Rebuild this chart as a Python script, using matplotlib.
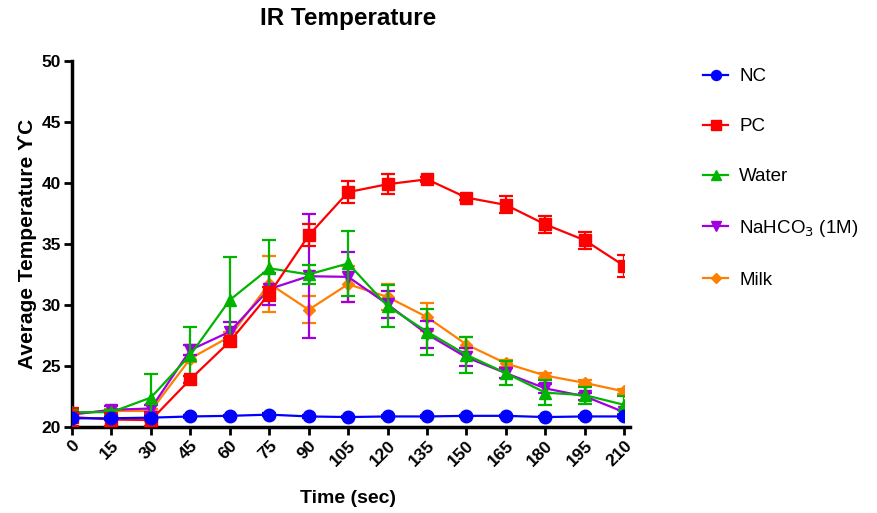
"""IR temperature time course, mean +/- error per treatment."""
import matplotlib
matplotlib.use("Agg")
import matplotlib.pyplot as plt
from matplotlib.lines import Line2D

plt.rcParams["font.family"] = ["Liberation Sans", "DejaVu Sans"]

time_sec = [0, 15, 30, 45, 60, 75, 90, 105, 120, 135, 150, 165, 180, 195, 210]

nc_mean = [20.7, 20.7, 20.75, 20.85, 20.9, 21.0, 20.85, 20.8, 20.85, 20.85, 20.9, 20.9, 20.8, 20.85, 20.85]
nc_err = [0.1, 0.1, 0.1, 0.1, 0.1, 0.1, 0.1, 0.1, 0.1, 0.1, 0.1, 0.1, 0.1, 0.1, 0.1]

pc_mean = [20.8, 20.6, 20.55, 23.9, 27.0, 30.9, 35.7, 39.25, 39.9, 40.3, 38.8, 38.2, 36.6, 35.3, 33.2]
pc_err = [0.75, 0.5, 0.5, 0.3, 0.3, 0.6, 0.9, 0.9, 0.8, 0.2, 0.2, 0.7, 0.7, 0.7, 0.9]

water_mean = [21.2, 21.2, 22.4, 25.9, 30.4, 33.0, 32.5, 33.4, 29.9, 27.8, 25.9, 24.4, 22.8, 22.6, 21.8]
water_err = [0.2, 0.2, 1.9, 2.3, 3.5, 2.3, 0.8, 2.7, 1.7, 1.9, 1.5, 1.0, 1.0, 0.7, 0.75]

nahco3_mean = [21.0, 21.4, 21.5, 26.3, 27.8, 31.3, 32.35, 32.3, 30.05, 27.6, 25.7, 24.4, 23.15, 22.5, 21.2]
nahco3_err = [0.3, 0.3, 0.3, 0.4, 0.8, 1.3, 5.1, 2.05, 1.1, 1.1, 0.75, 0.4, 0.4, 0.3, 0.2]

milk_mean = [21.1, 21.3, 21.3, 25.6, 27.4, 31.75, 29.6, 31.7, 30.65, 29.0, 26.75, 25.2, 24.2, 23.6, 22.9]
milk_err = [0.2, 0.2, 0.2, 0.3, 0.4, 2.3, 1.1, 1.5, 1.1, 1.15, 0.6, 0.3, 0.2, 0.2, 0.2]

series = [
    ("NC", nc_mean, nc_err, "#0000FF", "o", 9, 10),
    ("PC", pc_mean, pc_err, "#FF0000", "s", 9, 9),
    ("Water", water_mean, water_err, "#00B400", "^", 9, 8),
    ("NaHCO$_3$ (1M)", nahco3_mean, nahco3_err, "#A000E0", "v", 9, 7),
    ("Milk", milk_mean, milk_err, "#FF8000", "D", 6, 6),
]

fig = plt.figure(figsize=(8.78, 5.13), dpi=100)
ax = fig.add_axes([0.082, 0.168, 0.629, 0.713])

handles = []
for label, mean, err, color, marker, ms, z in series:
    ax.errorbar(time_sec, mean, yerr=err, color=color, marker=marker,
                markersize=ms, linewidth=1.6, elinewidth=1.6, capsize=5,
                capthick=1.6, zorder=z)
    handles.append(Line2D([], [], color=color, marker=marker, linewidth=1.6,
                          markersize=ms * 0.8, label=label))

ax.set_xlim(0, 210)
ax.set_ylim(20, 50)
ax.set_xticks(time_sec)
ax.set_yticks([20, 25, 30, 35, 40, 45, 50])
ax.tick_params(axis="both", direction="out", length=6, width=2, labelsize=12.5, pad=2)
for lbl in ax.get_xticklabels():
    lbl.set_rotation(45)
    lbl.set_fontweight("bold")
    lbl.set_ha("right")
    lbl.set_rotation_mode("anchor")
for lbl in ax.get_yticklabels():
    lbl.set_fontweight("bold")
for side in ("top", "right"):
    ax.spines[side].set_visible(False)
for side in ("left", "bottom"):
    ax.spines[side].set_linewidth(2.5)
ax.spines["bottom"].set_bounds(0, 212)

ax.set_title("IR Temperature", fontsize=17.5, fontweight="bold", pad=26)
ax.set_xlabel("Time (sec)", fontsize=14, fontweight="bold", labelpad=15)
ax.set_ylabel("Average Temperature \u03d2C", fontsize=15, fontweight="bold", labelpad=3)

fig.legend(handles=handles, loc="upper left", bbox_to_anchor=(0.782, 0.9),
           frameon=False, fontsize=13.5, labelspacing=1.75, handlelength=1.3,
           handletextpad=0.6)

fig.savefig("out.png", dpi=100)
